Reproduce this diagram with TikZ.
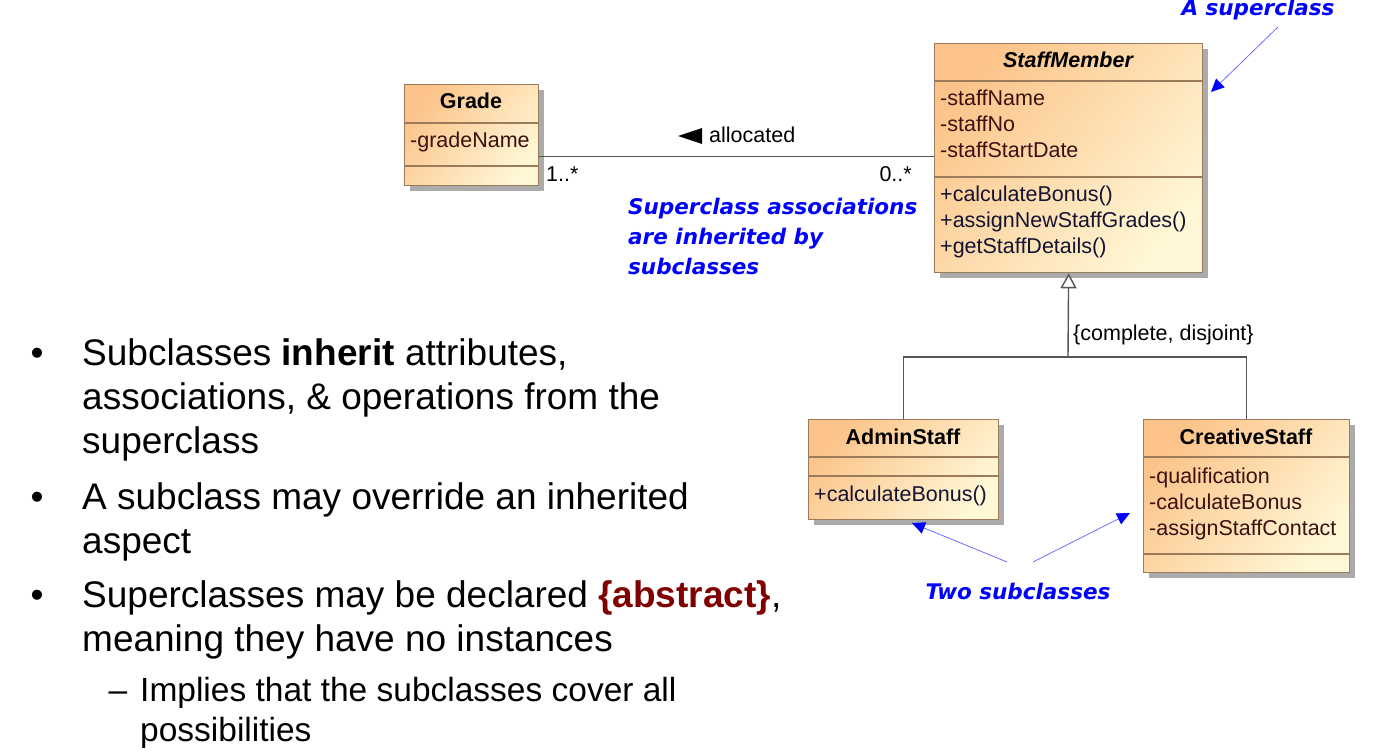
\documentclass[tikz,border=0pt]{standalone}
\usepackage{fontspec}
\setmainfont{Liberation Sans}
\newfontfamily\notefont{DejaVu Sans}
\usetikzlibrary{arrows.meta,shadows}

\definecolor{umlpeach}{HTML}{FCC48A}
\definecolor{umlcream}{HTML}{FFF7D6}
\definecolor{umlborder}{HTML}{9C7B5B}
\definecolor{attrtext}{HTML}{3B1111}
\definecolor{optext}{HTML}{141432}
\definecolor{noteblue}{HTML}{0000FF}
\definecolor{pointerblue}{HTML}{6E6EFF}
\definecolor{linkgray}{HTML}{555555}
\definecolor{abstractred}{HTML}{800000}

\newcommand\umlfont{\fontsize{21.5}{26}\selectfont}
\newcommand\notesize{\fontsize{21.5}{30}\selectfont}
\newcommand\bulletsize{\fontsize{37}{44}\selectfont}
\newcommand\subbulletsize{\fontsize{33.5}{40}\selectfont}

\tikzset{
  umlclass/.style={draw=umlborder, line width=1.3pt,
    top color=umlpeach, bottom color=umlcream, shading angle=50,
    drop shadow={shadow xshift=5pt, shadow yshift=-5pt, fill=black!33, opacity=1},
    inner sep=0pt, anchor=north west},
  compart/.style={draw=umlborder, line width=1.3pt},
  classname/.style={font=\umlfont\bfseries, anchor=base, inner sep=0pt},
  attr/.style={font=\umlfont, text=attrtext, anchor=base west, inner sep=0pt},
  oper/.style={font=\umlfont, text=optext, anchor=base west, inner sep=0pt},
  plainlabel/.style={font=\umlfont, inner sep=0pt},
  link/.style={draw=linkgray, line width=1.4pt},
  note/.style={font=\notefont\notesize\bfseries\slshape, text=noteblue, inner sep=0pt},
  pointer/.style={draw=pointerblue, line width=0.8pt,
    -{Triangle[length=13pt, width=12pt, color=noteblue]}},
  bullettext/.style={font=\bulletsize, anchor=base west, inner sep=0pt},
  subtext/.style={font=\subbulletsize, anchor=base west, inner sep=0pt},
}

\begin{document}
\begin{tikzpicture}[x=1pt, y=-1pt]
\useasboundingbox (0,0) rectangle (1374,754);
\fill[white] (0,0) rectangle (1374,754);

% ---------- class Grade ----------
\node[umlclass, minimum width=134pt, minimum height=101pt] (grade) at (404,84) {};
\draw[compart] ([yshift=-39pt]grade.north west) -- ([yshift=-39pt]grade.north east);
\draw[compart] ([yshift=-82pt]grade.north west) -- ([yshift=-82pt]grade.north east);
\node[classname] (gradeT) at (471,109) {Grade};
\node[attr] (gradeA1) at (410,148) {-gradeName};

% ---------- class StaffMember ----------
\node[umlclass, minimum width=268pt, minimum height=229pt] (staff) at (934,43) {};
\draw[compart] ([yshift=-38pt]staff.north west) -- ([yshift=-38pt]staff.north east);
\draw[compart] ([yshift=-134pt]staff.north west) -- ([yshift=-134pt]staff.north east);
\node[classname, font=\umlfont\bfseries\itshape] (staffT) at (1068,68) {StaffMember};
\node[attr] (staffA1) at (940,106) {-staffName};
\node[attr] (staffA2) at (940,132) {-staffNo};
\node[attr] (staffA3) at (940,158) {-staffStartDate};
\node[oper] (staffO1) at (940,202) {+calculateBonus()};
\node[oper] (staffO2) at (940,228) {+assignNewStaffGrades()};
\node[oper] (staffO3) at (940,254) {+getStaffDetails()};

% ---------- class AdminStaff ----------
\node[umlclass, minimum width=190pt, minimum height=100pt] (admin) at (808,419) {};
\draw[compart] ([yshift=-38pt]admin.north west) -- ([yshift=-38pt]admin.north east);
\draw[compart] ([yshift=-57pt]admin.north west) -- ([yshift=-57pt]admin.north east);
\node[classname] (adminT) at (903,444) {AdminStaff};
\node[oper] (adminO1) at (814,501) {+calculateBonus()};

% ---------- class CreativeStaff ----------
\node[umlclass, minimum width=206pt, minimum height=153pt] (creative) at (1143,419) {};
\draw[compart] ([yshift=-38pt]creative.north west) -- ([yshift=-38pt]creative.north east);
\draw[compart] ([yshift=-135pt]creative.north west) -- ([yshift=-135pt]creative.north east);
\node[classname] (creativeT) at (1246,444) {CreativeStaff};
\node[attr] (creativeA1) at (1149,483) {-qualification};
\node[attr] (creativeA2) at (1149,509) {-calculateBonus};
\node[attr] (creativeA3) at (1149,535) {-assignStaffContact};

% ---------- association Grade -- StaffMember ----------
\draw[link] ([yshift=-21.5pt]grade.east) -- ([yshift=1.5pt]staff.west);
\fill (678,136) -- (702,128) -- (702,144) -- cycle;
\node[plainlabel, anchor=base west] (allocL) at (709,143) {allocated};
\node[plainlabel, anchor=base west] (multG) at (546,182) {1..*};
\node[plainlabel, anchor=base east] (multS) at (912,182) {0..*};

% ---------- generalization ----------
\coordinate (gen) at (1068,357);
\draw[link] (admin.north) |- (gen) -| (creative.north);
\draw[link, -{Triangle[open, length=15pt, width=16pt, fill=white]}] (gen) -- (staff.south);
\node[plainlabel, anchor=base west] (genL) at (1073,340) {\{complete, disjoint\}};

% ---------- notes ----------
\node[note, anchor=base] (noteSuper) at (1258,16) {A superclass};
\coordinate (noteSuperTail) at (1278,27);
\coordinate (noteSuperTip) at (1211,92);
\draw[pointer] (noteSuperTail) -- (noteSuperTip);

\node[note, anchor=base west] (noteAssoc1) at (628,215) {Superclass associations};
\node[note, anchor=base west] (noteAssoc2) at (628,245) {are inherited by};
\node[note, anchor=base west] (noteAssoc3) at (628,275) {subclasses};

\node[note, anchor=base] (noteTwo) at (1018,599) {Two subclasses};
\coordinate (noteTwoL) at (1007,562);
\coordinate (noteTwoR) at (1033,562);
\coordinate (adminTip) at (912,523);
\coordinate (creativeTip) at (1130,513);
\draw[pointer] (noteTwoL) -- (adminTip);
\draw[pointer] (noteTwoR) -- (creativeTip);

% ---------- bullet list ----------
\node[bullettext, anchor=base] (dot1) at (37,365) {•};
\node[bullettext] (b1l1) at (82,365) {Subclasses \textbf{inherit} attributes,};
\node[bullettext] (b1l2) at (82,409) {associations, \& operations from the};
\node[bullettext] (b1l3) at (82,453) {superclass};

\node[bullettext, anchor=base] (dot2) at (37,509) {•};
\node[bullettext] (b2l1) at (82,509) {A subclass may override an inherited};
\node[bullettext] (b2l2) at (82,553) {aspect};

\node[bullettext, anchor=base] (dot3) at (37,607) {•};
\node[bullettext] (b3l1) at (82,607) {Superclasses may be declared \textcolor{abstractred}{\textbf{\{abstract\}}},};
\node[bullettext] (b3l2) at (82,651) {meaning they have no instances};

\node[subtext, anchor=base] (dash1) at (118,701) {–};
\node[subtext] (s1l1) at (140,701) {Implies that the subclasses cover all};
\node[subtext] (s1l2) at (140,741) {possibilities};
\end{tikzpicture}
\end{document}
